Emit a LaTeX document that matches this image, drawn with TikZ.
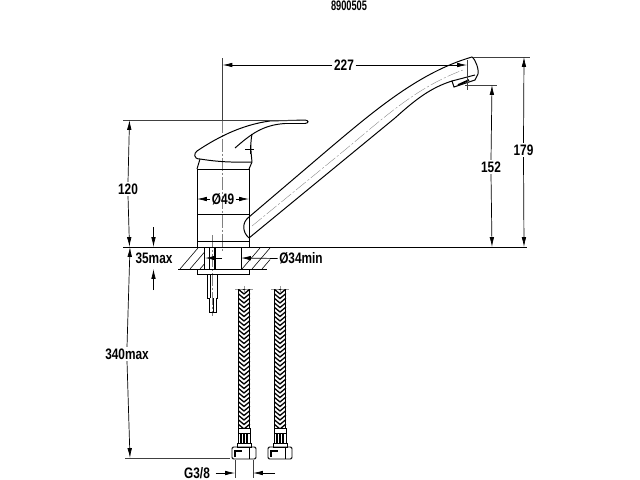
\documentclass[tikz,border=0pt]{standalone}
\usepackage{fontspec}
\setmainfont[FakeStretch=0.78]{Liberation Sans}
\usetikzlibrary{arrows.meta}
\tikzset{dim/.style = {line width=0.5pt, -{Latex[length=7pt, width=3.2pt]}}}
\tikzset{ext/.style = {line width=0.4pt, black!75}}
\tikzset{axisline/.style = {line width=0.3pt, black!50, dash pattern=on 9pt off 1.5pt on 1.5pt off 1.5pt}}
\tikzset{outline/.style = {line width=0.7pt}}
\tikzset{lbl/.style = {font=\bfseries\fontsize{10.8}{10.8}\selectfont, inner sep=1pt}}
\tikzset{lblbg/.style = {lbl, fill=white}}

\begin{document}
\begin{tikzpicture}[x=0.025cm, y=-0.025cm]
    \useasboundingbox (0, 0) rectangle (640, 480);
    \node [font=\bfseries\fontsize{9.8}{9.8}\selectfont, xscale=0.86, transform shape, inner sep=0] (partno) at (349, 6) {8900505};

    % center lines
    \draw [axisline] (222.5, 120) -- (222.5, 252);
    \draw [axisline] (212, 235) -- (212, 316);
    \draw [axisline, line width=0.25pt] (252, 226) -- (340, 154) .. controls (385, 117) and (415, 88) .. (463, 70);

    % body
    \draw [outline] (197, 169) -- (197, 247) (249, 169) -- (249, 247);
    \draw [outline] (197, 169) -- (249, 169);
    \draw [outline] (197, 214) -- (249, 214) (197, 241) -- (249, 241);

    % lever
    \draw [outline] (200, 159) .. controls (193, 159) and (194, 153) .. (197, 151)
      .. controls (215, 139) and (240, 125) .. (270, 121) -- (305, 120)
      .. controls (309, 120.5) and (309, 123) .. (305, 123.5) -- (285, 123.5)
      .. controls (262, 125) and (250, 135) .. (235, 148);
    \draw [outline] (200, 159) -- (197, 169) (252, 162) -- (249, 169);
    \draw [outline] (200, 159) .. controls (225, 163) and (240, 162) .. (252, 162);
    \draw [outline] (252, 162) .. controls (251, 152) and (250, 145) .. (252, 134);
    \draw [line width=0.4pt] (245, 149) -- (254, 149) (250, 145) -- (250, 154);

    % spout
    \draw [outline] (249, 217) -- (330, 148) .. controls (375, 110) and (420, 72) .. (472, 57)
      .. controls (476, 60) and (479, 70) .. (478, 74) -- (475, 80) -- (454, 87) -- (452, 81)
      .. controls (430, 88) and (415, 100) .. (395, 118) -- (249, 238);
    \draw [outline] (452, 81) -- (475, 75);
    \draw [line width=1.2pt] (458, 85) -- (469, 80);
    \draw [outline] (249, 217) .. controls (242, 222) and (242, 232) .. (249, 238);

    % worktop
    \draw [line width=0.8pt] (123, 247.5) -- (527, 247.5);
    \draw [outline] (178, 269) -- (267, 269);
    \draw [outline] (204, 248) -- (204, 269) (241, 248) -- (241, 269);
    \begin{scope}
      \clip (170, 248) rectangle (204, 269);
      \foreach \hx in {0, 10, 20, 30} {
        \draw [line width=0.4pt] (180+\hx, 269) -- (198+\hx, 248);
      }
    \end{scope}
    \begin{scope}
      \clip (241, 248) rectangle (270, 269);
      \foreach \hx in {0, 10, 20} {
        \draw [line width=0.4pt] (242+\hx, 269) -- (260+\hx, 248);
      }
    \end{scope}

    % fixing rod
    \draw [outline] (197, 269) rectangle (249, 274);
    \draw [outline] (209, 248) -- (209, 269);
    \draw [line width=1.2pt] (215, 248) -- (215, 269);
    \draw [outline] (207, 274) -- (207, 298) -- (209, 298) -- (209, 312) -- (216, 312) -- (216, 298) -- (217, 298) -- (217, 274);
    \draw [line width=0.4pt] (210, 274) -- (210, 298) (213, 298) -- (213, 312);

    % hoses
    \foreach \hx in {238, 274} {
      \begin{scope}[shift={(\hx, 0)}]
        \draw [ext, black!40] (-3, 289) -- (15, 289) (6, 286) -- (6, 292);
        \begin{scope}
          \clip (0, 289) rectangle (12, 428);
          \foreach \hy in {280, 284.5, ..., 430} {
            \draw [line width=0.95pt] (0, \hy) -- (6, \hy+5) -- (12, \hy);
          }
        \end{scope}
        \draw [line width=1pt] (0.5, 289) -- (0.5, 428) (11.5, 289) -- (11.5, 428);
        \draw [outline] (0, 428) rectangle (12, 443);
        \draw [outline] (0, 433) -- (12, 433);
        \draw [line width=0.8pt] (3, 433) -- (3, 443) (6, 433) -- (6, 443) (9, 433) -- (9, 443);
        \draw [outline] (-1, 443) rectangle (13, 447);
        \draw [outline, rounded corners=1pt] (-6, 447) rectangle (18, 459);
        \draw [outline] (11, 447) -- (11, 459);
        \fill (-4, 450) rectangle (4, 451.5);
        \fill (-4, 450) rectangle (-2.5, 457);
      \end{scope}
    }

    % dimensions
    \draw [ext] (222.5, 58) -- (222.5, 120);
    \draw [ext] (123, 120) -- (300, 120);
    \draw [ext] (473, 57) -- (530, 57);
    \draw [ext] (465, 85) -- (497, 85);
    \draw [ext] (125, 458.5) -- (230, 458.5);
    \draw [ext] (235, 460) -- (235, 478) (253, 460) -- (253, 478);
    \draw [ext] (467, 60) -- (467, 90);

    \node [lblbg] (topwidth) at (344, 65) {227};
    \node [lblbg] (spoutheight) at (491, 167) {152};
    \node [lblbg] (totalheight) at (523.5, 150) {179};
    \node [lblbg] (leverheight) at (128, 189) {120};
    \node [lblbg] (hoselen) at (127, 354) {340max};
    \node [lbl] (bodydia) at (223, 199) {Ø49};
    \node [lbl] (holedia) at (301, 258.5) {Ø34min};
    \node [lbl] (deckmax) at (154, 258.5) {35max};
    \node [lbl] (thread) at (197, 473) {G3/8};

    \draw [dim] (topwidth.west) -- (222.5, 65);
    \draw [dim] (topwidth.east) -- (467, 65);
    \draw [dim] (spoutheight.north) -- (492, 85);
    \draw [dim] (spoutheight.south) -- (492, 247);
    \draw [dim] (totalheight.north) -- (524, 57);
    \draw [dim] (totalheight.south) -- (524, 247);
    \draw [dim] (leverheight.north) -- (129.5, 120);
    \draw [dim] (leverheight.south) -- (129.5, 247);
    \draw [dim] (hoselen.north) -- (130, 247);
    \draw [dim] (hoselen.south) -- (130, 458);
    \draw [dim] (bodydia.west) -- (197, 199);
    \draw [dim] (bodydia.east) -- (249, 199);
    \draw [dim] (holedia.west) -- (241, 258);
    \draw [dim] (222, 258) -- (205, 258);
    \draw [dim] (153.5, 227) -- (153.5, 247);
    \draw [dim] (153.5, 290) -- (153.5, 269);
    \draw [dim] (thread.east) ++(4, 0) -- (235, 473);
    \draw [dim] (275, 473) -- (253, 473);
  \end{tikzpicture}
\end{document}
